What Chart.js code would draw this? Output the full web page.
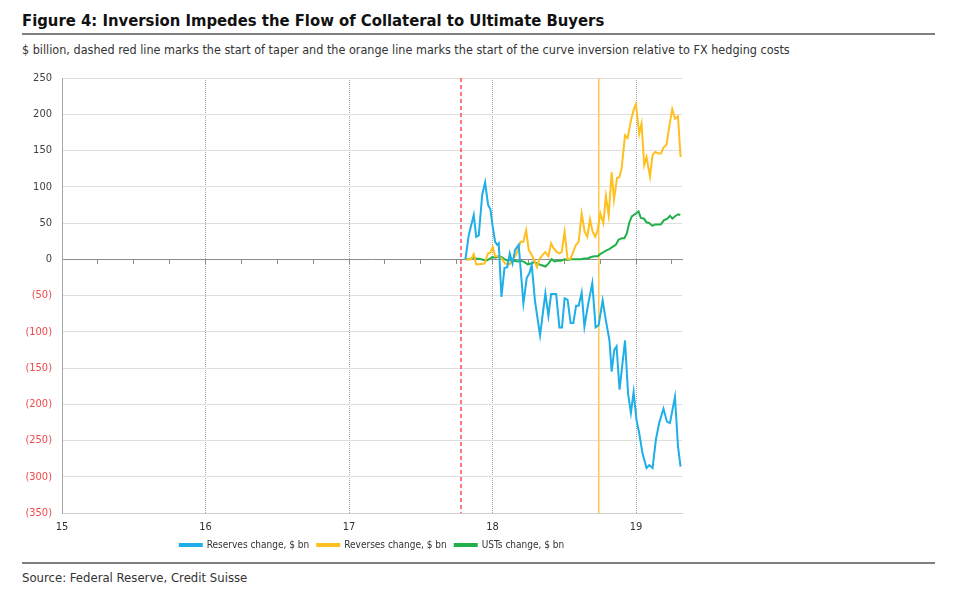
<!DOCTYPE html>
<html lang="en">
  <head>
    <meta charset="UTF-8" />
    <title>Figure 4: Inversion Impedes the Flow of Collateral to Ultimate Buyers</title>
    <style>
      * {
        box-sizing: border-box;
        margin: 0;
        padding: 0;
      }

      body {
        width: 960px;
        height: 603px;
        background: #fff;
        font-family: "Liberation Sans Narrow", "Arial Narrow", "DejaVu Sans Condensed", sans-serif;
        color: #333;
        position: relative;
        overflow: hidden;
      }

      .title {
        position: absolute;
        left: 22px;
        top: 11px;
        font-size: 16.5px;
        font-weight: bold;
        color: #111;
        white-space: nowrap;
      }

      .rule {
        position: absolute;
        left: 22px;
        width: 913px;
        height: 2px;
        background: #7f7f7f;
      }

      .subtitle {
        position: absolute;
        left: 22px;
        top: 42px;
        font-size: 12.5px;
        white-space: nowrap;
      }

      .source {
        position: absolute;
        left: 22px;
        top: 570px;
        font-size: 13px;
        white-space: nowrap;
      }

      .chart-box {
        position: absolute;
        left: 0;
        top: 60px;
        width: 744px;
        height: 500px;
      }
    </style>
    <script src="https://cdn.jsdelivr.net/npm/chart.js"></script>
  </head>
  <body>
    <div class="title">Figure 4: Inversion Impedes the Flow of Collateral to Ultimate Buyers</div>
    <div class="rule" style="top: 33px"></div>
    <div class="subtitle">$ billion, dashed red line marks the start of taper and the orange line marks the start of the curve inversion relative to FX hedging costs</div>
    <div class="chart-box"><canvas id="chart"></canvas></div>
    <div class="rule" style="top: 562px"></div>
    <div class="source">Source: Federal Reserve, Credit Suisse</div>
    <script>
      const FONT = '"Liberation Sans Narrow", "Arial Narrow", "DejaVu Sans Condensed", sans-serif';

      // x values are decimal years (15 = 2015)
      const yearTicks = [15, 16, 17, 18, 19];
      const taperStart = 17.78;
      const inversionStart = 18.74;

      const reservesX = [17.811, 17.834, 17.869, 17.886, 17.904, 17.928, 17.948, 17.969, 17.985, 18.001,
        18.018, 18.032, 18.043, 18.062, 18.083, 18.102, 18.12, 18.139, 18.157, 18.182,
        18.215, 18.238, 18.257, 18.273, 18.296, 18.331, 18.368, 18.389, 18.408, 18.443,
        18.466, 18.484, 18.502, 18.523, 18.544, 18.563, 18.582, 18.6, 18.621, 18.64,
        18.667, 18.695, 18.718, 18.739, 18.767, 18.791, 18.814, 18.83, 18.848, 18.864,
        18.885, 18.923, 18.944, 18.964, 18.983, 19.003, 19.022, 19.045, 19.073, 19.092,
        19.115, 19.138, 19.161, 19.191, 19.215, 19.236, 19.271, 19.292, 19.31];
      const reservesY = [0, 33, 61, 31, 33, 89, 106, 75, 69, 45,
        24, 20, 22, -52, -12, -11, 8, -6, 13, 20,
        -61, -26, -19, -8, -58, -105, -47, -78, -48, -48,
        -94, -94, -54, -56, -88, -88, -64, -64, -46, -93,
        -61, -33, -94, -91, -57, -86, -111, -155, -125, -120,
        -180, -112, -185, -212, -183, -222, -240, -268, -288, -284,
        -288, -249, -226, -206, -224, -226, -190, -258, -286];

      const reversesX = [17.811, 17.851, 17.869, 17.886, 17.904, 17.944, 17.967, 17.985, 18.001, 18.018,
        18.048, 18.067, 18.088, 18.118, 18.141, 18.164, 18.182, 18.196, 18.215, 18.234,
        18.252, 18.273, 18.292, 18.31, 18.326, 18.349, 18.368, 18.389, 18.408, 18.426,
        18.447, 18.466, 18.482, 18.502, 18.523, 18.542, 18.558, 18.582, 18.6, 18.621,
        18.642, 18.66, 18.679, 18.697, 18.716, 18.732, 18.751, 18.772, 18.79, 18.809,
        18.83, 18.846, 18.867, 18.883, 18.899, 18.923, 18.941, 18.965, 18.983, 18.999,
        19.022, 19.038, 19.057, 19.073, 19.097, 19.115, 19.134, 19.155, 19.173, 19.191,
        19.212, 19.231, 19.252, 19.271, 19.292, 19.31];
      const reversesY = [0, 0, 7, -7, -7, -6, 8, 9, 17, 4,
        4, 0, -6, -7, 0, 6, 17, 24, 24, 40,
        13, 6, -2, -11, 0, 6, 10, 4, 22, 15,
        10, 8, 10, 38, 0, 0, 8, 20, 24, 63,
        38, 31, 55, 38, 31, 40, 63, 50, 87, 61,
        120, 82, 112, 113, 125, 171, 167, 192, 206, 214,
        173, 187, 130, 141, 114, 144, 148, 146, 146, 154,
        158, 183, 207, 194, 197, 141];

      const ustsX = [17.811, 17.839, 17.862, 17.886, 17.921, 17.955, 17.978, 17.997, 18.02, 18.043,
        18.064, 18.083, 18.106, 18.129, 18.152, 18.175, 18.198, 18.222, 18.245, 18.268,
        18.291, 18.315, 18.338, 18.368, 18.389, 18.412, 18.431, 18.454, 18.477, 18.5,
        18.523, 18.547, 18.57, 18.593, 18.616, 18.639, 18.663, 18.686, 18.709, 18.732,
        18.75, 18.767, 18.79, 18.813, 18.836, 18.859, 18.878, 18.901, 18.919, 18.936,
        18.952, 18.97, 18.998, 19.017, 19.033, 19.056, 19.072, 19.091, 19.114, 19.132,
        19.153, 19.172, 19.195, 19.218, 19.236, 19.253, 19.276, 19.294, 19.308];
      const ustsY = [0, 0, 2, 1, 0, -2, 0, 3, 2, 4,
        3, 0, -2, 0, -2, -3, -2, -4, -7, -6,
        -4, -6, -8, -10, -6, 0, -3, -2, -2, 0,
        -1, 0, 0, 0, 0, 1, 1, 3, 4, 4,
        7, 9, 12, 14, 17, 20, 27, 29, 29, 36,
        50, 59, 63, 66, 57, 56, 51, 50, 46, 48,
        48, 48, 54, 56, 60, 56, 60, 62, 61];

      const Y_MIN = -350;
      const Y_MAX = 250;
      const X_MIN = 15;
      const X_MAX = 19.32;

      function toPoints(xs, ys) {
        return xs.map((x, i) => ({ x: x, y: ys[i] }));
      }

      function vline(x) {
        return [{ x: x, y: Y_MAX }, { x: x, y: Y_MIN }];
      }

      function series(label, xs, ys, color) {
        return {
          label: label,
          data: toPoints(xs, ys),
          borderColor: color,
          backgroundColor: color,
          borderWidth: 2,
          pointRadius: 0,
          tension: 0,
        };
      }

      new Chart(document.getElementById("chart"), {
        type: "line",
        data: {
          datasets: [
            series("Reserves change, $ bn", reservesX, reservesY, "#1eaee8"),
            series("Reverses change, $ bn", reversesX, reversesY, "#ffbf1f"),
            series("USTs change, $ bn", ustsX, ustsY, "#22b04b"),
            {
              label: "taper",
              data: vline(taperStart),
              borderColor: "#ff4d4d",
              borderWidth: 1.5,
              borderDash: [4, 3],
              pointRadius: 0,
            },
            {
              label: "inversion",
              data: vline(inversionStart),
              borderColor: "#ffc94a",
              borderWidth: 1.5,
              pointRadius: 0,
            },
          ],
        },
        options: {
          responsive: true,
          maintainAspectRatio: false,
          animation: false,
          layout: { padding: { top: 18, right: 0, left: 0, bottom: 0 } },
          plugins: {
            tooltip: { enabled: false },
            legend: {
              position: "bottom",
              labels: {
                filter: (item) => item.datasetIndex < 3,
                boxWidth: 22,
                boxHeight: 2,
                padding: 8,
                color: "#333",
                font: { family: FONT, size: 10 },
              },
            },
          },
          scales: {
            x: {
              type: "linear",
              min: X_MIN,
              max: X_MAX,
              afterFit: (s) => { s.height = 19; },
              afterBuildTicks: (s) => { s.ticks = yearTicks.map((v) => ({ value: v })); },
              grid: { color: "#a6a6a6", drawTicks: false, lineWidth: 1 },
              border: { color: "#d0d0d0", dash: [1, 1] },
              ticks: {
                padding: 8,
                color: "#333",
                font: { family: FONT, size: 11 },
              },
            },
            zero: {
              type: "linear",
              axis: "x",
              position: { y: 0 },
              min: X_MIN,
              max: X_MAX,
              ticks: { stepSize: 0.25, includeBounds: false, display: false },
              grid: { drawOnChartArea: false, drawTicks: true, tickLength: 4, tickColor: "#8c8c8c" },
              border: { color: "#8c8c8c", width: 1 },
            },
            y: {
              min: Y_MIN,
              max: Y_MAX,
              afterFit: (s) => { s.width = 62; },
              grid: { color: "#dedede", drawTicks: false },
              border: { color: "#a6a6a6" },
              ticks: {
                stepSize: 50,
                padding: 10,
                font: { family: FONT, size: 11 },
                color: (ctx) => (ctx.tick.value < 0 ? "#f04a4a" : "#404040"),
                callback: (v) => (v < 0 ? "(" + -v + ")" : v),
              },
            },
            // empty right-hand axis keeps the plot narrower than the legend row
            spacer: {
              type: "linear",
              axis: "y",
              position: "right",
              min: Y_MIN,
              max: Y_MAX,
              afterFit: (s) => { s.width = 62; },
              grid: { display: false },
              border: { display: false },
              ticks: { display: false },
            },
          },
        },
      });
    </script>
  </body>
</html>
